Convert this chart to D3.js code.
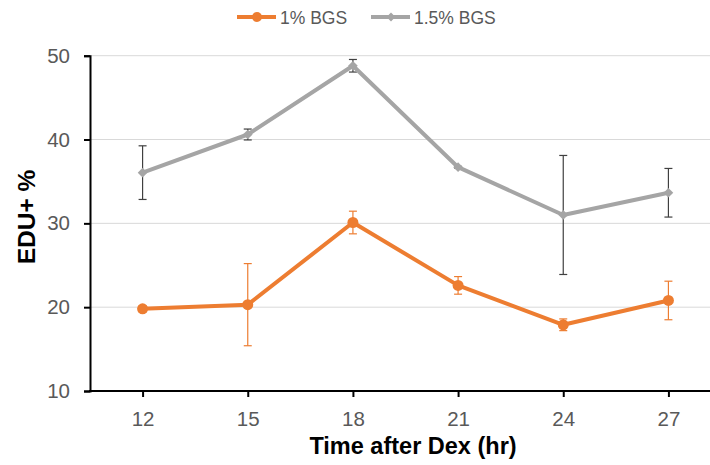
<!DOCTYPE html>
<html>
<head>
<meta charset="utf-8">
<script src="https://cdn.jsdelivr.net/npm/d3@7"></script>
<style>
  body { margin: 0; background: #fff; }
  svg { display: block; font-family: "Liberation Sans", Arial, sans-serif; }
</style>
</head>
<body>
<div id="chart"></div>
<script>
// Data
var hours = ["12", "15", "18", "21", "24", "27"];
var bgs1 = [19.8, 20.3, 30.1, 22.6, 17.9, 20.8];
var bgs1Err = [0.35, 4.9, 1.35, 1.05, 0.7, 2.3];
var bgs15 = [36.05, 40.6, 48.8, 36.7, 31.0, 33.65];
var bgs15Err = [3.2, 0.65, 0.75, 0.1, 7.1, 2.9];
var yTicks = [10, 20, 30, 40, 50];

var svgWidth = 710;
var svgHeight = 465;

var SVG = d3.select("#chart")
    .append("svg")
    .attr("width", svgWidth)
    .attr("height", svgHeight);

// Scales
var xScale = d3.scalePoint().domain(hours).range([90, 721]).padding(0.5);
var yScale = d3.scaleLinear().domain([10, 50]).range([391, 55.7]);

// Gridlines
SVG.append("g").selectAll("line").data(yTicks.slice(1)).enter().append("line")
    .attr("x1", 90).attr("x2", svgWidth)
    .attr("y1", d => yScale(d)).attr("y2", d => yScale(d))
    .attr("stroke", "#d9d9d9").attr("stroke-width", 1);

// Y axis
var yAxis = SVG.append("g")
    .attr("transform", "translate(90,0)")
    .call(d3.axisLeft(yScale).tickValues(yTicks).tickSize(6).tickPadding(14));
yAxis.select(".domain").attr("stroke", "#000").attr("stroke-width", 2);
yAxis.selectAll(".tick line").attr("stroke", "#000").attr("stroke-width", 2);
yAxis.selectAll("text").attr("fill", "#595959").style("font-size", "20.5px");

// X axis
var xAxis = SVG.append("g")
    .attr("transform", "translate(0,391)")
    .call(d3.axisBottom(xScale).tickSize(6).tickPadding(14).tickSizeOuter(0));
xAxis.select(".domain").attr("stroke", "#000").attr("stroke-width", 2)
    .attr("d", "M89,0H" + svgWidth);
xAxis.selectAll(".tick line").attr("stroke", "#000").attr("stroke-width", 2);
xAxis.selectAll("text").attr("fill", "#595959").style("font-size", "20.5px");

// Axis titles
SVG.append("text")
    .attr("transform", "translate(35,217) rotate(-90)")
    .attr("text-anchor", "middle")
    .style("font-size", "24.5px").style("font-weight", "bold")
    .text("EDU+ %");

SVG.append("text")
    .attr("x", 413).attr("y", 454)
    .attr("text-anchor", "middle")
    .style("font-size", "23.5px").style("font-weight", "bold")
    .text("Time after Dex (hr)");

// Error bars
function drawErrors(values, errs, color) {
    var g = SVG.append("g");
    hours.forEach(function(h, i) {
        var x = xScale(h);
        var top = yScale(values[i] + errs[i]);
        var bot = yScale(values[i] - errs[i]);
        g.append("line").attr("x1", x).attr("x2", x).attr("y1", top).attr("y2", bot)
            .attr("stroke", color).attr("stroke-width", 1.2);
        g.append("line").attr("x1", x - 4).attr("x2", x + 4).attr("y1", top).attr("y2", top)
            .attr("stroke", color).attr("stroke-width", 1.2);
        g.append("line").attr("x1", x - 4).attr("x2", x + 4).attr("y1", bot).attr("y2", bot)
            .attr("stroke", color).attr("stroke-width", 1.2);
    });
}

var lineGen = d3.line()
    .x((d, i) => xScale(hours[i]))
    .y(d => yScale(d));

// 1.5% BGS series
drawErrors(bgs15, bgs15Err, "#404040");
SVG.append("path").datum(bgs15)
    .attr("d", lineGen)
    .attr("fill", "none").attr("stroke", "#a5a5a5").attr("stroke-width", 4)
    .attr("stroke-linejoin", "round");
SVG.append("g").selectAll("path").data(bgs15).enter().append("path")
    .attr("d", d3.symbol().type(d3.symbolDiamond2).size(60))
    .attr("transform", (d, i) => `translate(${xScale(hours[i])},${yScale(d)})`)
    .attr("fill", "#a5a5a5");

// 1% BGS series
drawErrors(bgs1, bgs1Err, "#ed7d31");
SVG.append("path").datum(bgs1)
    .attr("d", lineGen)
    .attr("fill", "none").attr("stroke", "#ed7d31").attr("stroke-width", 4)
    .attr("stroke-linejoin", "round");
SVG.append("g").selectAll("circle").data(bgs1).enter().append("circle")
    .attr("cx", (d, i) => xScale(hours[i]))
    .attr("cy", d => yScale(d))
    .attr("r", 5.5)
    .attr("fill", "#ed7d31");

// Legend
var legend = SVG.append("g");
var legendItems = [
    { name: "1% BGS", color: "#ed7d31", x: 237, marker: "circle" },
    { name: "1.5% BGS", color: "#a5a5a5", x: 371, marker: "diamond" }
];
legendItems.forEach(function(item) {
    legend.append("line").attr("x1", item.x).attr("x2", item.x + 39)
        .attr("y1", 17).attr("y2", 17)
        .attr("stroke", item.color).attr("stroke-width", 4);
    if (item.marker === "circle") {
        legend.append("circle").attr("cx", item.x + 20).attr("cy", 17).attr("r", 5)
            .attr("fill", item.color);
    } else {
        legend.append("path").attr("d", d3.symbol().type(d3.symbolDiamond2).size(50))
            .attr("transform", `translate(${item.x + 20},17)`)
            .attr("fill", item.color);
    }
    legend.append("text").attr("x", item.x + 43).attr("y", 24)
        .attr("fill", "#595959").style("font-size", "17.5px")
        .text(item.name);
});
</script>
</body>
</html>
